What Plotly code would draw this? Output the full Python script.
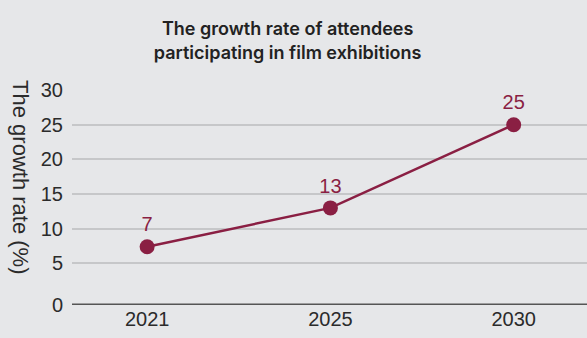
import plotly.graph_objects as go

years = ["2021", "2025", "2030"]
growth = [7.4, 13, 25]
label_text = ["7", "13", "25"]
y_tickvals = [-1, 5, 10, 15, 20, 25, 30]
y_ticktext = ["0", "5", "10", "15", "20", "25", "30"]

BG = "#e6e7e9"
MAROON = "#8a1f43"
FONT = "Liberation Sans, Arial, sans-serif"

fig = go.Figure()
fig.add_trace(go.Scatter(
    x=years, y=growth, mode="lines+markers+text",
    text=label_text, textposition="top center",
    textfont=dict(family=FONT, size=20, color=MAROON),
    line=dict(color=MAROON, width=2.5),
    marker=dict(color=MAROON, size=15),
    cliponaxis=False, hoverinfo="skip", showlegend=False,
))

fig.update_layout(
    width=587, height=338,
    paper_bgcolor=BG, plot_bgcolor=BG,
    margin=dict(l=72, r=0, t=90, b=33),
    title=dict(
        text="The growth rate of attendees<br>participating in film exhibitions",
        x=0.49, xanchor="center", y=0.895, yanchor="middle",
        font=dict(family="Inter, sans-serif", size=18, color="#222222", weight=600),
    ),
    xaxis=dict(
        type="category", range=[-0.41, 2.40],
        showgrid=False, zeroline=False, showline=False,
        ticks="", tickfont=dict(family=FONT, size=20, color="#2b2b2b"),
    ),
    yaxis=dict(
        range=[-1, 30], tickvals=y_tickvals, ticktext=y_ticktext,
        showgrid=True, gridcolor="#c6c7c9", gridwidth=1.5,
        zeroline=False, showline=False, ticks="",
        tickfont=dict(family=FONT, size=20, color="#2b2b2b"),
        ticklabelstandoff=8,
    ),
    shapes=[dict(type="line", xref="paper", yref="y", x0=0, x1=1, y0=-1, y1=-1,
                 line=dict(color="#555555", width=3))],
    annotations=[dict(
        text="The growth rate (%)", textangle=90, xref="paper", yref="paper",
        x=-0.099, y=0.595, xanchor="center", yanchor="middle", showarrow=False,
        font=dict(family=FONT, size=22, color="#2b2b2b"),
    )],
)

fig.write_html("out.html", config={"displayModeBar": False},
               post_script="document.body.style.margin='0px';")
